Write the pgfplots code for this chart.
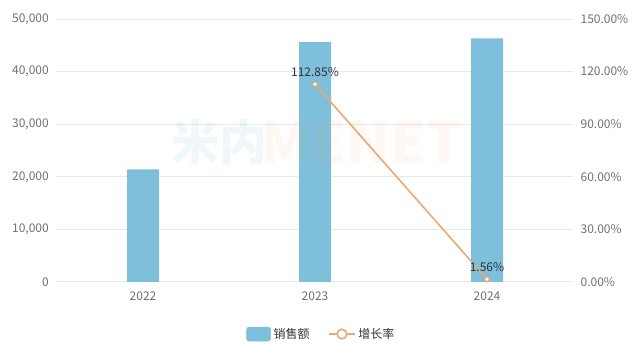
\documentclass[border=0pt]{standalone}
\usepackage{pgfplots}
\pgfplotsset{compat=1.18}
\usepackage{fontspec}
\setmainfont{Noto Sans CJK SC}

\definecolor{barblue}{HTML}{7EBFDB}
\definecolor{lineorange}{HTML}{E6AB74}
\definecolor{gridgray}{HTML}{E6E9EE}
\definecolor{ticktext}{HTML}{6E7079}
\definecolor{labeltext}{HTML}{333333}

\begin{document}
\begin{tikzpicture}
\path[use as bounding box] (0pt,0pt) rectangle (478.5pt,259.5pt);

\pgfplotsset{
  base/.style={
    at={(42.75pt,48pt)}, anchor=south west, scale only axis,
    width=387pt, height=197.25pt,
    xmin=-0.5, xmax=2.5, ymin=0,
    axis line style={draw=none},
    major tick style={draw=none},
    scaled y ticks=false,
    tick label style={font=\fontsize{9}{10}\selectfont, text=ticktext},
  }
}

% sales (left axis)
\begin{axis}[base,
  ymax=50000,
  ytick={0,10000,20000,30000,40000,50000},
  yticklabels={0,{10,000},{20,000},{30,000},{40,000},{50,000}},
  yticklabel style={anchor=east, inner sep=0pt, xshift=-6pt},
  xtick={0,1,2}, xticklabels={2022,2023,2024},
  xticklabel style={anchor=north, inner sep=0pt, yshift=-7pt},
  ymajorgrids, grid style={gridgray, line width=0.75pt},
]
\addplot[ybar, bar width=24pt, fill=barblue, draw=none]
  coordinates {(0,21424) (1,45600) (2,46311)};
\end{axis}

% growth rate (right axis)
\begin{axis}[base,
  ymax=150,
  axis y line*=right, axis x line=none,
  ytick={0,30,60,90,120,150},
  yticklabels={0.00\%,30.00\%,60.00\%,90.00\%,120.00\%,150.00\%},
  yticklabel style={anchor=west, inner sep=0pt, xshift=5.5pt},
  xtick=\empty,
  legend columns=-1,
  legend style={at={(0.513,-0.198)}, anchor=center, draw=none, fill=none,
    font=\fontsize{9}{10}\selectfont, text=labeltext,
    /tikz/every even column/.append style={column sep=12pt},
    inner sep=0pt},
]
\addlegendimage{legend image code/.code={
  \fill[barblue, rounded corners=2pt] (0pt,-5.25pt) rectangle (18pt,5.25pt);}}
\addlegendentry{销售额}
\addplot[lineorange, line width=1.2pt, mark=*,
  mark options={fill=white, draw=lineorange, line width=1pt}, mark size=1.8pt,
  point meta=explicit symbolic,
  nodes near coords,
  every node near coord/.append style={font=\fontsize{9}{10}\selectfont,
    text=labeltext, anchor=south, inner sep=0pt, yshift=5pt},
  legend image code/.code={
    \draw[lineorange, line width=1.2pt] (0pt,0pt) -- (19.5pt,0pt);
    \draw[lineorange, fill=white, line width=1.2pt] (9.75pt,0pt) circle (3.6pt);}
] coordinates {(1,112.85) [112.85\%] (2,1.56) [1.56\%]};
\addlegendentry{增长率}
\end{axis}

% faint watermark
\node[anchor=west, inner sep=0pt, text=barblue, opacity=0.12,
  font=\bfseries\fontsize{36}{36}\selectfont] at (128.25pt,153pt) {米内};
\node[anchor=west, inner sep=0pt, text=lineorange, opacity=0.08,
  font=\bfseries\fontsize{43}{43}\selectfont] at (195pt,153pt) {MENET};
\end{tikzpicture}
\end{document}
